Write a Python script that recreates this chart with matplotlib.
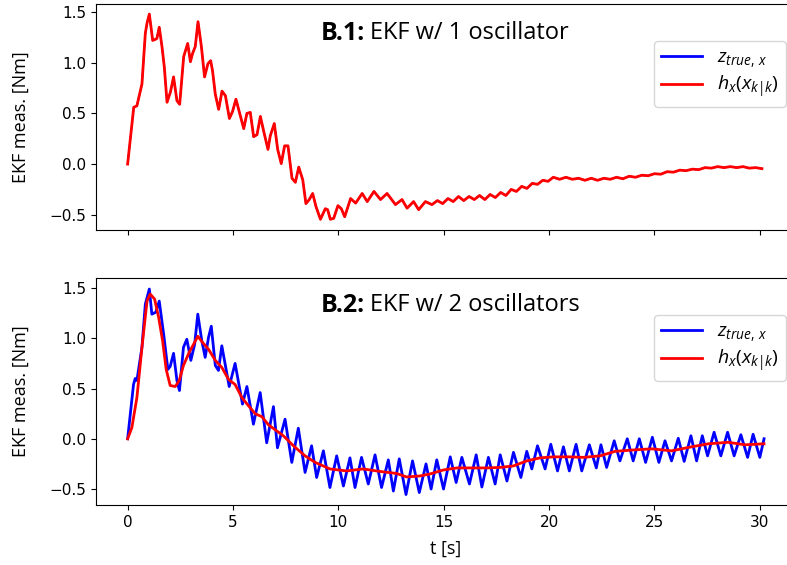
import matplotlib
matplotlib.use("Agg")
import matplotlib.pyplot as plt

plt.rcParams["mathtext.fontset"] = "custom"
plt.rcParams["mathtext.rm"] = "Open Sans"
plt.rcParams["mathtext.it"] = "Open Sans:italic"
plt.rcParams["mathtext.bf"] = "Open Sans:bold"

# B.1: single oscillator -- estimate sits exactly on the measured torque
t_b1 = [0, 0.29, 0.44, 0.68, 0.84, 0.92, 1.03, 1.19, 1.31, 1.39, 1.50, 1.63, 1.74, 1.87,
        2.03, 2.18, 2.34, 2.47, 2.66, 2.85, 2.98, 3.08, 3.21, 3.34, 3.50, 3.65, 3.81, 3.94,
        4.03, 4.16, 4.32, 4.48, 4.64, 4.83, 4.98, 5.14, 5.35, 5.51, 5.66, 5.82, 5.98, 6.14,
        6.30, 6.45, 6.66, 6.77, 6.96, 7.12, 7.29, 7.45, 7.61, 7.80, 7.96, 8.12, 8.31, 8.46,
        8.62, 8.78, 8.94, 9.15, 9.38, 9.49, 9.62, 9.78, 9.98, 10.14, 10.30, 10.58, 10.82,
        11.13, 11.37, 11.69, 12.0, 12.31, 12.71, 13.02, 13.26, 13.57, 13.81, 14.13, 14.44,
        14.7, 14.95, 15.2, 15.45, 15.7, 15.95, 16.2, 16.45, 16.7, 16.95, 17.2, 17.45, 17.7,
        17.95, 18.2, 18.45, 18.7, 18.95, 19.2, 19.45, 19.7, 19.95, 20.2, 20.5, 20.8, 21.1,
        21.4, 21.7, 22.0, 22.3, 22.6, 22.9, 23.2, 23.5, 23.8, 24.1, 24.4, 24.7, 25.0, 25.3,
        25.6, 25.9, 26.2, 26.5, 26.8, 27.1, 27.4, 27.7, 28.0, 28.3, 28.6, 28.9, 29.2, 29.5,
        29.8, 30.1]
h_b1 = [0, 0.56, 0.575, 0.79, 1.29, 1.39, 1.48, 1.22, 1.23, 1.24, 1.35, 1.16, 0.96, 0.61,
        0.71, 0.86, 0.625, 0.59, 1.06, 1.19, 1.01, 1.09, 1.16, 1.405, 1.16, 0.86, 0.99, 1.02,
        0.92, 0.69, 0.54, 0.72, 0.675, 0.45, 0.52, 0.64, 0.475, 0.35, 0.50, 0.51, 0.27, 0.29,
        0.47, 0.33, 0.145, 0.28, 0.40, 0.145, 0.005, 0.18, 0.18, -0.14, -0.18, -0.03, -0.155,
        -0.39, -0.35, -0.29, -0.42, -0.545, -0.44, -0.45, -0.545, -0.535, -0.41, -0.44, -0.52,
        -0.34, -0.385, -0.29, -0.37, -0.27, -0.35, -0.29, -0.40, -0.35, -0.435, -0.37, -0.45,
        -0.37, -0.40, -0.36, -0.39, -0.34, -0.37, -0.32, -0.36, -0.32, -0.35, -0.31, -0.35,
        -0.30, -0.33, -0.28, -0.31, -0.25, -0.27, -0.22, -0.24, -0.19, -0.20, -0.16, -0.17,
        -0.13, -0.15, -0.13, -0.15, -0.14, -0.16, -0.14, -0.16, -0.14, -0.15, -0.13, -0.145,
        -0.12, -0.13, -0.11, -0.115, -0.095, -0.10, -0.075, -0.08, -0.06, -0.065, -0.05,
        -0.055, -0.035, -0.04, -0.025, -0.035, -0.025, -0.035, -0.025, -0.04, -0.035, -0.045]
z_b1 = h_b1

# B.2: two oscillators -- measured torque
t_z2 = [0, 0.28, 0.36, 0.44, 0.68, 0.84, 1.03, 1.15, 1.34, 1.50, 1.71, 1.91, 2.02, 2.18,
        2.34, 2.46, 2.65, 2.81, 3.00, 3.18, 3.33, 3.52, 3.68, 3.84, 3.97, 4.16, 4.31, 4.47,
        4.82, 5.10, 5.45, 5.66, 5.97, 6.29, 6.60, 6.92, 7.11, 7.47, 7.79, 8.10, 8.42, 8.73,
        8.97, 9.29, 9.60, 9.92, 10.24, 10.55, 10.79, 11.10, 11.42, 11.74, 12.05, 12.37,
        12.61, 12.89, 13.21, 13.52, 13.84, 14.16, 14.40, 14.67, 14.99, 15.31, 15.59, 15.86,
        16.22, 16.54, 16.81, 17.12, 17.44, 17.68, 18.00, 18.31, 18.66, 18.94, 19.18, 19.45,
        19.81, 20.08, 20.40, 20.68, 20.96, 21.28, 21.55, 21.91, 22.24, 22.46, 22.73, 23.09,
        23.36, 23.71, 23.99, 24.28, 24.58, 24.90, 25.21, 25.50, 25.81, 26.13, 26.41, 26.73,
        27.00, 27.27, 27.52, 27.83, 28.15, 28.47, 28.78, 29.10, 29.42, 29.68, 30.00, 30.2]
z_b2 = [0, 0.54, 0.60, 0.58, 0.91, 1.34, 1.49, 1.24, 1.26, 1.37, 1.04, 0.69, 0.72, 0.85,
        0.58, 0.48, 0.91, 0.99, 0.78, 0.94, 1.24, 0.975, 0.81, 1.01, 1.12, 0.73, 0.68, 0.925,
        0.52, 0.75, 0.345, 0.52, 0.145, 0.46, -0.04, 0.32, -0.09, 0.195, -0.235, 0.105,
        -0.335, -0.07, -0.385, -0.12, -0.485, -0.17, -0.47, -0.19, -0.485, -0.185, -0.45,
        -0.16, -0.485, -0.21, -0.52, -0.20, -0.555, -0.22, -0.535, -0.25, -0.50, -0.21,
        -0.50, -0.18, -0.435, -0.185, -0.45, -0.16, -0.48, -0.185, -0.45, -0.16, -0.42,
        -0.135, -0.385, -0.125, -0.30, -0.07, -0.30, -0.055, -0.32, -0.08, -0.32, -0.055,
        -0.32, -0.06, -0.29, -0.06, -0.285, -0.02, -0.22, 0.0, -0.22, 0.0, -0.235, 0.015,
        -0.235, -0.02, -0.22, 0.005, -0.225, 0.03, -0.22, 0.03, -0.17, 0.065, -0.17, 0.065,
        -0.17, 0.04, -0.185, 0.045, -0.185, 0.0]

# B.2: EKF estimate
t_h2 = [0, 0.2, 0.44, 0.68, 0.92, 1.07, 1.28, 1.47, 1.66, 1.83, 2.02, 2.26, 2.45, 2.65,
        2.92, 3.13, 3.33, 3.55, 3.84, 4.16, 4.47, 4.79, 5.1, 5.42, 5.73, 6.05, 6.37, 6.68,
        7.0, 7.39, 7.87, 8.42, 8.9, 9.6, 10.4, 11.18, 11.98, 12.76, 13.24, 13.87, 14.35,
        14.99, 15.63, 16.26, 17.05, 17.68, 18.31, 18.94, 19.57, 20.2, 21.0, 21.63, 22.42,
        23.13, 24.08, 24.87, 25.81, 26.76, 27.55, 28.5, 29.29, 30.2]
h_b2 = [0, 0.11, 0.41, 0.91, 1.37, 1.44, 1.39, 1.21, 0.975, 0.69, 0.53, 0.52, 0.58, 0.73,
        0.86, 0.94, 1.02, 0.96, 0.89, 0.78, 0.71, 0.59, 0.54, 0.41, 0.33, 0.25, 0.22, 0.14,
        0.09, 0.03, -0.07, -0.17, -0.235, -0.30, -0.32, -0.30, -0.325, -0.345, -0.38, -0.37,
        -0.35, -0.31, -0.29, -0.29, -0.29, -0.285, -0.27, -0.22, -0.19, -0.18, -0.18, -0.185,
        -0.17, -0.125, -0.11, -0.10, -0.12, -0.08, -0.05, -0.035, -0.06, -0.05]

fig = plt.figure(figsize=(7.87, 5.65), dpi=100)
ax1 = fig.add_axes([0.122, 0.593, 0.889, 0.400])
ax2 = fig.add_axes([0.122, 0.106, 0.889, 0.402], sharex=ax1)

panels = [
    (ax1, t_b1, z_b1, t_b1, h_b1, "B.1:", "EKF w/ 1 oscillator", (-0.65, 1.58), 0.87),
    (ax2, t_z2, z_b2, t_h2, h_b2, "B.2:", "EKF w/ 2 oscillators", (-0.66, 1.60), 0.88),
]
for ax, tz, z, th, h, tag, title, ylim, ty in panels:
    # thinner blue so the identical red trace in B.1 hides it completely
    ax.plot(tz, z, color="blue", lw=2 if ax is ax2 else 1.2, label=r"$z_{true,\,x}$")
    ax.plot(th, h, color="red", lw=2, label=r"$h_x(x_{k|k})$")
    ax.set_ylim(*ylim)
    ax.set_yticks([-0.5, 0.0, 0.5, 1.0, 1.5])
    ax.tick_params(labelsize=11)
    ax.set_ylabel("EKF meas. [Nm]", fontsize=13, family="Open Sans", labelpad=14)
    ax.text(0.384, ty, tag, transform=ax.transAxes, ha="right", va="center",
            fontsize=18, family="Open Sans", weight="bold")
    ax.text(0.392, ty, title, transform=ax.transAxes, ha="left", va="center",
            fontsize=17, family="Open Sans")
    leg = ax.legend(loc="upper right", bbox_to_anchor=(1.0, 0.88), fontsize=14,
                    handlelength=2.1, borderpad=0.35, labelspacing=0.22)
    leg.get_lines()[0].set_linewidth(2)

ax1.set_xlim(-1.5, 31.7)
ax1.tick_params(labelbottom=False)
ax2.set_xticks([0, 5, 10, 15, 20, 25, 30])
ax2.set_xlabel("t [s]", fontsize=13, family="Open Sans", labelpad=7)

fig.savefig("out.png", dpi=100)
